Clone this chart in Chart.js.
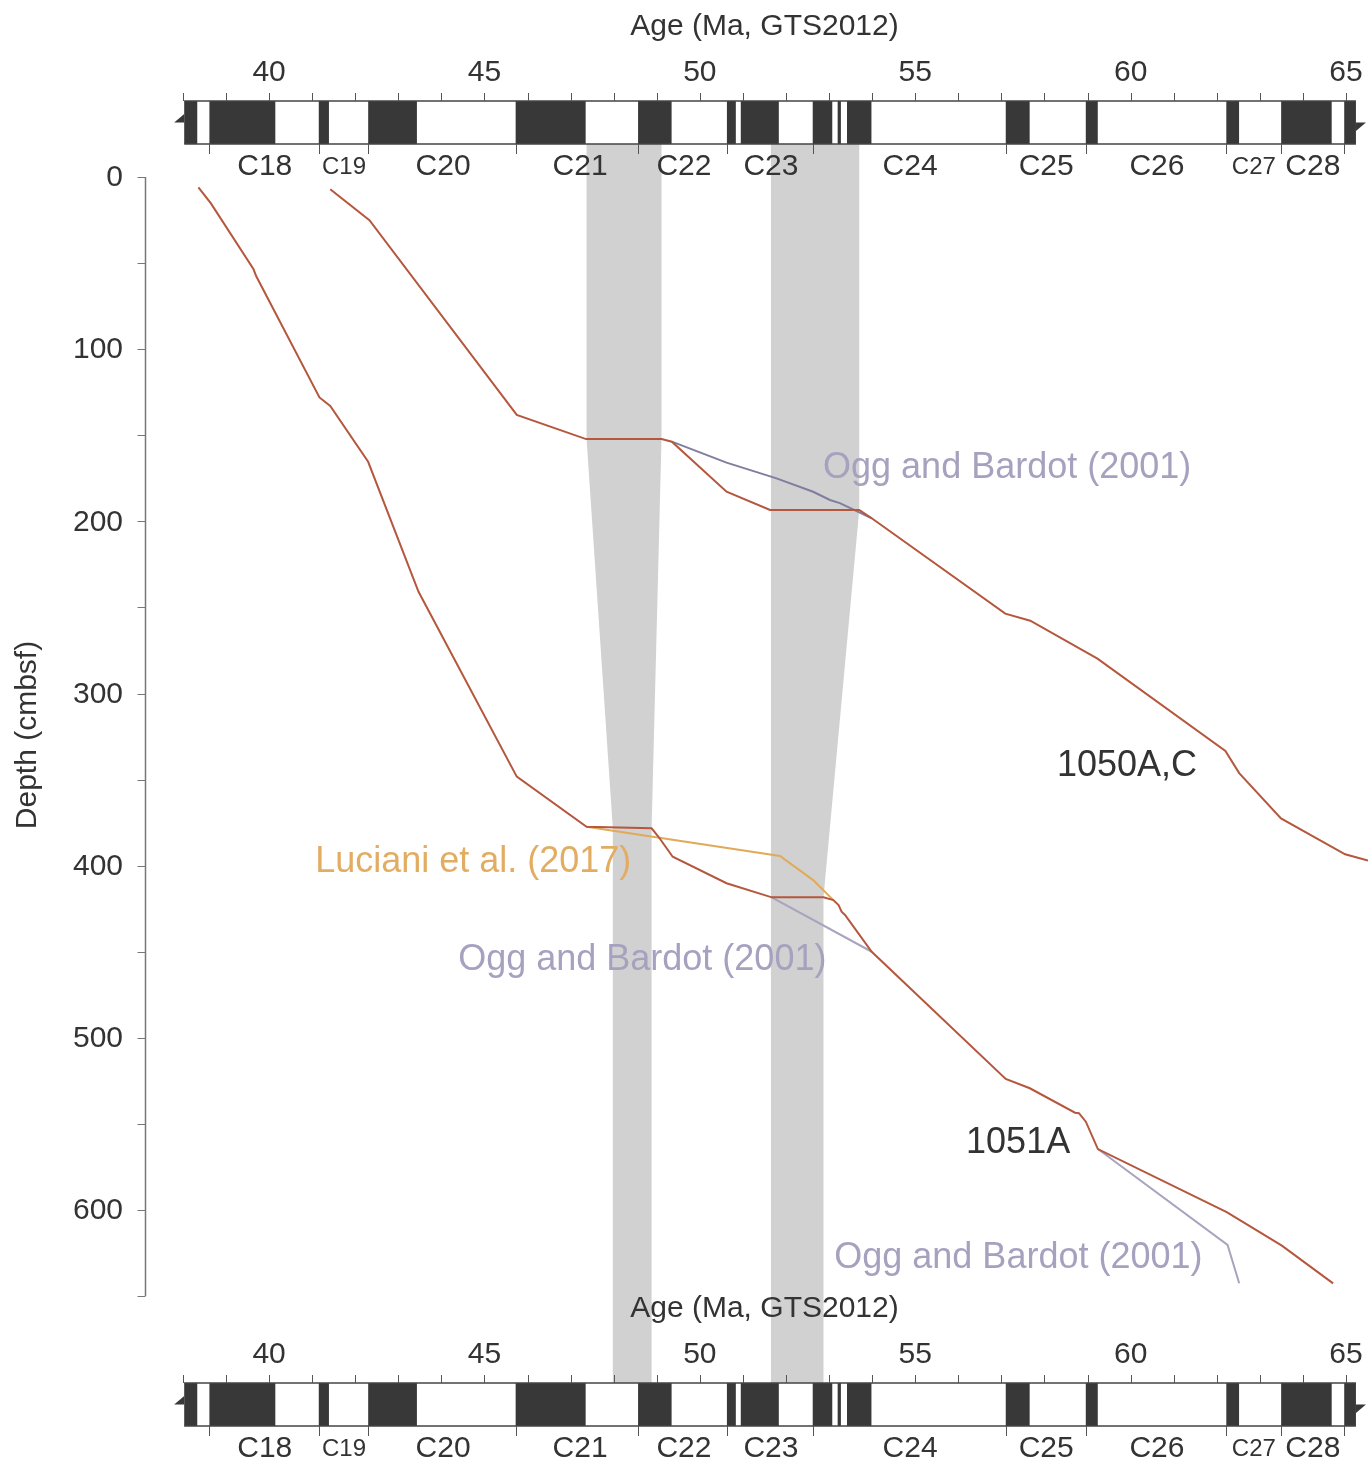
<!DOCTYPE html>
<html>
<head>
<meta charset="utf-8">
<title>Age–depth, Sites 1050 and 1051</title>
<script src="https://cdn.jsdelivr.net/npm/chart.js@4.4.1/dist/chart.umd.min.js"></script>
<style>
  html, body { margin: 0; padding: 0; background: #fff; }
  canvas { display: block; }
</style>
</head>
<body>
<canvas id="ageDepthChart" width="1368" height="1462"></canvas>
<script>
// --- age / depth tie points (Ma, mbsf) ---
const age1050 = [41.42, 42.33, 45.75, 47.36, 49.11, 49.35, 50.62, 51.63, 53.70, 53.99, 57.09, 57.67, 59.23, 62.20, 62.52, 63.49, 64.98, 65.51];
const depth1050 = [7.1, 25.0, 138.2, 152.2, 152.2, 153.7, 182.8, 193.4, 193.4, 198.2, 253.6, 257.7, 279.7, 333.4, 346.2, 372.5, 393.4, 397.0];

const age1051 = [38.36, 38.65, 39.64, 39.70, 41.17, 41.42, 42.30, 43.47, 45.75, 47.37, 48.88, 49.04, 49.37, 50.62, 51.67, 52.87, 53.10, 53.22, 53.29, 53.37, 53.99, 57.10, 57.66, 58.71, 58.80, 58.96, 59.24, 62.23, 63.51, 64.70];
const depth1051 = [6.0, 15.3, 53.6, 57.5, 128.0, 133.0, 165.4, 240.9, 348.3, 377.4, 378.3, 383.2, 394.8, 410.2, 418.4, 418.4, 420.0, 422.9, 426.7, 428.6, 450.0, 523.9, 529.3, 543.5, 543.8, 548.7, 564.6, 601.3, 620.7, 642.6];

// alternative models
const ageOgg1050 = [49.35, 50.62, 51.78, 52.63, 53.02, 53.25, 53.99];
const depthOgg1050 = [153.7, 165.9, 175.0, 182.8, 187.6, 189.4, 198.2];
const ageOgg1051a = [51.67, 53.99];
const depthOgg1051a = [418.4, 450.0];
const ageOgg1051b = [59.24, 62.25, 62.52];
const depthOgg1051b = [564.6, 620.3, 642.6];
const ageLuciani = [47.37, 51.86, 52.63, 53.10];
const depthLuciani = [377.4, 394.4, 408.4, 420.0];

// hiatus bands linking the two sites: [age, depth] vertices
const band1 = [[47.37, -19.2], [49.11, -19.2], [49.11, 152.2], [48.88, 378.3], [48.88, 700.5], [47.98, 700.5], [47.98, 378.3], [47.37, 152.2]];
const band2 = [[51.65, -19.2], [53.70, -19.2], [53.70, 193.4], [52.87, 418.4], [52.87, 700.5], [51.65, 700.5]];

// GTS2012 normal-polarity intervals (Ma)
const normalChrons = [[38.03, 38.333], [38.615, 40.145], [41.154, 41.39], [42.301, 43.432], [45.724, 47.349],
  [48.566, 49.344], [50.628, 50.835], [50.95, 51.833], [52.62, 53.074], [53.199, 53.274], [53.416, 53.983],
  [57.101, 57.656], [58.959, 59.237], [62.221, 62.517], [63.494, 64.667], [64.958, 65.23]];
const chronBounds = [38.615, 41.154, 42.301, 45.724, 48.566, 50.628, 52.62, 57.101, 58.959, 62.221, 63.494, 64.958];
const chronNames = ['C18', 'C19', 'C20', 'C21', 'C22', 'C23', 'C24', 'C25', 'C26', 'C27', 'C28'];
const chronLabelAges = [39.9, 41.74, 44.04, 47.22, 49.63, 51.65, 54.88, 58.04, 60.61, 62.86, 64.23];
const smallChrons = ['C19', 'C27'];

const ageTicks = [40, 45, 50, 55, 60, 65];
const depthTicks = [0, 100, 200, 300, 400, 500, 600];

const textLabels = [
  { text: 'Ogg and Bardot (2001)', age: 52.86, depth: 167.9, color: '#a6a1bf' },
  { text: '1050A,C', age: 58.29, depth: 340.9, color: '#333333' },
  { text: 'Luciani et al. (2017)', age: 41.07, depth: 396.7, color: '#e2ad63' },
  { text: 'Ogg and Bardot (2001)', age: 44.39, depth: 453.6, color: '#a6a1bf' },
  { text: '1051A', age: 56.18, depth: 559.9, color: '#333333' },
  { text: 'Ogg and Bardot (2001)', age: 53.12, depth: 626.7, color: '#a6a1bf' }
];

const FONT = '"Liberation Sans", Arial, Helvetica, sans-serif';
const INK = '#333333';
const BAR_BLACK = '#383838';

function pts(xs, ys) {
  return xs.map((x, i) => ({ x: x, y: ys[i] }));
}

function lineSet(xs, ys, color) {
  return {
    data: pts(xs, ys),
    showLine: true,
    borderColor: color,
    borderWidth: 2,
    pointRadius: 0,
    tension: 0,
    fill: false
  };
}

// polarity column with its age ticks, chron ticks and names
function drawPolarity(ctx, X, barTop, barBot, labelY, chronLabelY) {
  const h = barBot - barTop;
  const x0 = X(38.03), x1 = X(65.23);

  ctx.fillStyle = '#fff';
  ctx.fillRect(x0, barTop, x1 - x0, h);

  ctx.fillStyle = BAR_BLACK;
  normalChrons.forEach(([a, b]) => {
    ctx.fillRect(X(a), barTop, X(b) - X(a), h);
  });
  // torn ends
  ctx.beginPath();
  ctx.moveTo(x0, barTop + 0.3 * h);
  ctx.lineTo(x0 - 10, barTop + 0.5 * h);
  ctx.lineTo(x0, barTop + 0.5 * h);
  ctx.closePath();
  ctx.fill();
  ctx.beginPath();
  ctx.moveTo(x1, barTop + 0.5 * h);
  ctx.lineTo(x1 + 10, barTop + 0.5 * h);
  ctx.lineTo(x1, barTop + 0.7 * h);
  ctx.closePath();
  ctx.fill();

  ctx.strokeStyle = '#444';
  ctx.lineWidth = 1.5;
  ctx.beginPath();
  ctx.moveTo(x0, barTop); ctx.lineTo(x1, barTop);
  ctx.moveTo(x0, barBot); ctx.lineTo(x1, barBot);
  ctx.stroke();

  // 1 Ma ticks above the column
  ctx.strokeStyle = '#555';
  ctx.lineWidth = 1;
  ctx.beginPath();
  for (let a = 38; a <= 65; a++) {
    const x = Math.round(X(a)) + 0.5;
    ctx.moveTo(x, barTop - 8); ctx.lineTo(x, barTop);
  }
  // chron boundaries below
  chronBounds.forEach(a => {
    const x = Math.round(X(a)) + 0.5;
    ctx.moveTo(x, barBot); ctx.lineTo(x, barBot + 10);
  });
  ctx.stroke();

  ctx.fillStyle = INK;
  ctx.textAlign = 'center';
  ctx.textBaseline = 'middle';
  ctx.font = '30px ' + FONT;
  ageTicks.forEach(a => ctx.fillText(String(a), X(a), labelY));

  chronNames.forEach((name, i) => {
    ctx.font = (smallChrons.includes(name) ? '24px ' : '30px ') + FONT;
    ctx.fillText(name, X(chronLabelAges[i]), chronLabelY);
  });
}

const framePlugin = {
  id: 'ageFrame',
  beforeDatasetsDraw(chart) {
    const ctx = chart.ctx;
    const X = v => chart.scales.x.getPixelForValue(v);
    const Y = v => chart.scales.y.getPixelForValue(v);
    ctx.save();
    ctx.fillStyle = '#d1d1d1';
    [band1, band2].forEach(poly => {
      ctx.beginPath();
      poly.forEach(([a, d], i) => i ? ctx.lineTo(X(a), Y(d)) : ctx.moveTo(X(a), Y(d)));
      ctx.closePath();
      ctx.fill();
    });
    ctx.restore();
  },
  afterDraw(chart) {
    const ctx = chart.ctx;
    const area = chart.chartArea;
    const X = v => chart.scales.x.getPixelForValue(v);
    const Y = v => chart.scales.y.getPixelForValue(v);
    ctx.save();

    // top and bottom age scales
    drawPolarity(ctx, X, area.top - 43, area.top, 73, 167);
    drawPolarity(ctx, X, area.bottom, area.bottom + 43, 1355, 1449);

    ctx.fillStyle = INK;
    ctx.textAlign = 'center';
    ctx.textBaseline = 'middle';
    ctx.font = '30px ' + FONT;
    const midAge = X(51.5);
    ctx.fillText('Age (Ma, GTS2012)', midAge, 27);
    ctx.fillText('Age (Ma, GTS2012)', midAge, 1309);

    // depth axis
    const ax = area.left + 0.5;
    ctx.strokeStyle = '#777';
    ctx.lineWidth = 1.5;
    ctx.beginPath();
    ctx.moveTo(ax, Y(0)); ctx.lineTo(ax, Y(650));
    ctx.stroke();
    ctx.lineWidth = 1;
    ctx.beginPath();
    for (let d = 0; d <= 650; d += 50) {
      const y = Math.round(Y(d)) + 0.5;
      ctx.moveTo(ax - 8, y); ctx.lineTo(ax, y);
    }
    ctx.stroke();
    ctx.textAlign = 'right';
    depthTicks.forEach(d => ctx.fillText(String(d), 123, Y(d) + 1));

    ctx.save();
    ctx.translate(28, 735);
    ctx.rotate(-Math.PI / 2);
    ctx.textAlign = 'center';
    ctx.fillText('Depth (cmbsf)', 0, 0);
    ctx.restore();

    // curve annotations
    ctx.textAlign = 'left';
    ctx.font = '36px ' + FONT;
    textLabels.forEach(l => {
      ctx.fillStyle = l.color;
      ctx.fillText(l.text, X(l.age), Y(l.depth) + 2);
    });
    ctx.restore();
  }
};

const ctx = document.getElementById('ageDepthChart').getContext('2d');
new Chart(ctx, {
  type: 'scatter',
  data: {
    datasets: [
      lineSet(age1050, depth1050, '#b5573d'),
      lineSet(age1051, depth1051, '#b5573d'),
      lineSet(ageLuciani, depthLuciani, '#e1aa58'),
      lineSet(ageOgg1050, depthOgg1050, '#807e9f'),
      lineSet(ageOgg1051a, depthOgg1051a, '#a8a4c0'),
      lineSet(ageOgg1051b, depthOgg1051b, '#a8a4c0')
    ]
  },
  options: {
    responsive: false,
    maintainAspectRatio: false,
    devicePixelRatio: 1,
    animation: false,
    layout: { padding: { left: 145, top: 144, right: 0, bottom: 79 } },
    plugins: { legend: { display: false }, tooltip: { enabled: false } },
    scales: {
      x: { type: 'linear', display: false, min: 37.12, max: 65.51 },
      y: { type: 'linear', display: false, reverse: true, min: -19.2, max: 700.5 }
    }
  },
  plugins: [framePlugin]
});
</script>
</body>
</html>
